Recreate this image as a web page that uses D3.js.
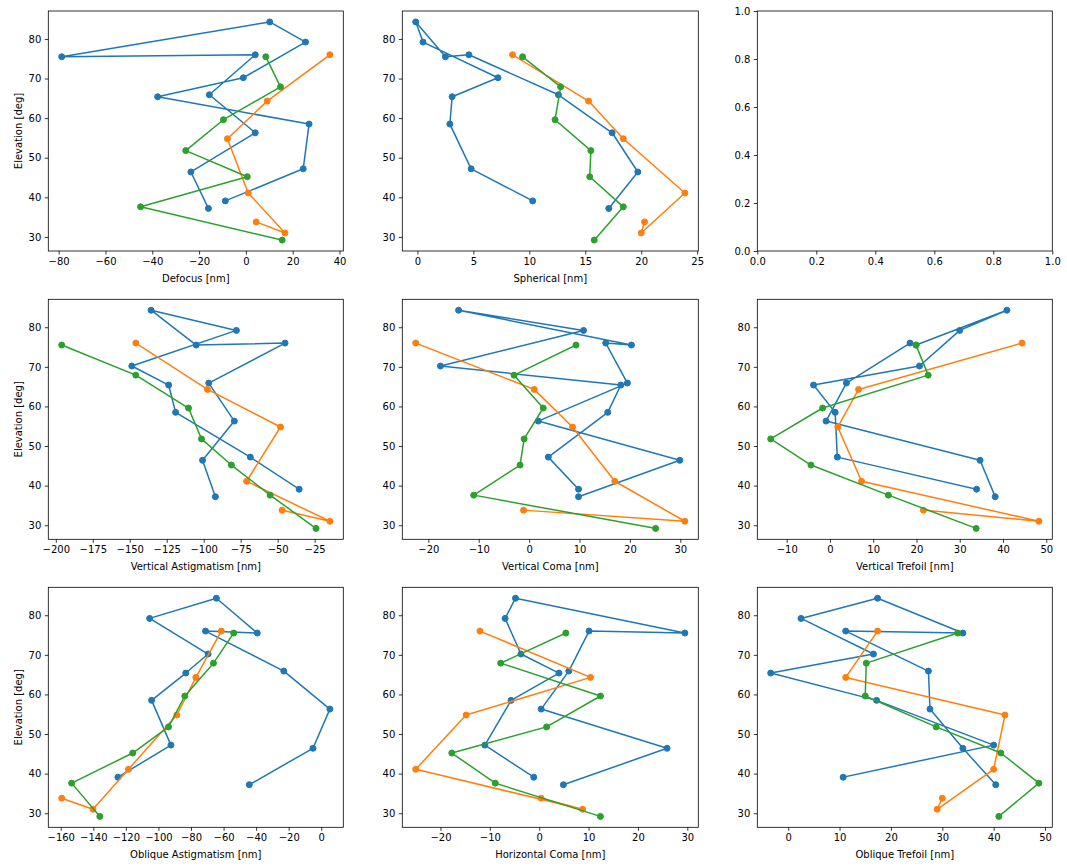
<!DOCTYPE html>
<html>
<head>
<meta charset="utf-8">
<script src="https://cdn.jsdelivr.net/npm/d3@7"></script>
<style>
  html, body { margin: 0; padding: 0; background: #ffffff; }
  svg { display: block; }
  text { font-family: "DejaVu Sans", sans-serif; }
</style>
</head>
<body>
<svg id="chart" width="1067" height="867"></svg>
<script>
// ---------------- DATA ----------------
// Elevation of each observation (series order as connected in the picture)
const elevBlue   = [39.1, 47.2, 58.5, 65.4, 70.2, 79.2, 84.3, 75.5, 76.0, 65.9, 56.3, 46.4, 37.2];
const elevOrange = [76.0, 64.3, 54.8, 41.1, 31.0, 33.8];
const elevGreen  = [75.5, 67.9, 59.6, 51.8, 45.2, 37.6, 29.2];

const defocusBlue   = [-8.8, 24.5, 27.0, -37.7, -1.1, 25.5, 10.2, -78.7, 4.0, -15.6, 4.0, -23.5, -16.0];
const defocusOrange = [35.9, 9.1, -7.9, 1.0, 16.7, 4.4];
const defocusGreen  = [8.5, 14.8, -9.6, -25.7, 0.6, -45.0, 15.5];

const sphericalBlue   = [10.3, 4.8, 2.9, 3.1, 7.2, 0.5, -0.15, 2.5, 4.6, 12.6, 17.4, 19.7, 17.1];
const sphericalOrange = [8.5, 15.3, 18.4, 23.9, 20.0, 20.3];
const sphericalGreen  = [9.4, 12.8, 12.3, 15.5, 15.4, 18.4, 15.8];

const vertAstigBlue   = [-35.5, -68.5, -119.0, -123.7, -148.6, -77.9, -135.6, -105.1, -45.0, -96.6, -79.3, -100.8, -92.1];
const vertAstigOrange = [-145.9, -97.5, -48.1, -71.0, -14.7, -47.0];
const vertAstigGreen  = [-196.0, -145.9, -110.3, -101.5, -81.3, -55.1, -24.1];

const vertComaBlue   = [9.8, 3.8, 15.6, 18.2, -17.6, 10.8, -14.0, 20.3, 15.2, 19.5, 1.8, 29.9, 9.8];
const vertComaOrange = [-22.5, 1.0, 8.6, 17.0, 30.9, -1.1];
const vertComaGreen  = [9.3, -3.0, 2.8, -1.0, -1.8, -11.0, 25.1];

const vertTrefoilBlue   = [33.9, 1.7, 1.2, -3.8, 20.7, 30.0, 40.9, 19.9, 18.5, 3.8, -0.9, 34.7, 38.2];
const vertTrefoilOrange = [44.4, 6.6, 1.8, 7.3, 48.3, 21.6];
const vertTrefoilGreen  = [19.9, 22.7, -1.7, -13.7, -4.4, 13.5, 33.8];

const oblAstigBlue   = [-124.9, -92.3, -104.2, -83.2, -69.5, -105.4, -64.4, -39.3, -71.1, -23.0, 5.3, -5.1, -44.2];
const oblAstigOrange = [-61.4, -77.0, -88.7, -118.4, -140.2, -159.4];
const oblAstigGreen  = [-53.8, -66.2, -83.8, -93.8, -115.8, -153.3, -136.0];

const horzComaBlue   = [-1.1, -11.0, -5.7, 4.0, -3.7, -6.9, -4.8, 29.5, 10.1, 6.0, 0.4, 25.9, 4.9];
const horzComaOrange = [-12.0, 10.4, -14.8, -25.0, 8.8, 0.4];
const horzComaGreen  = [5.4, -7.8, 12.4, 1.5, -17.7, -8.9, 12.4];

const oblTrefoilBlue   = [10.7, 40.0, 17.2, -3.4, 16.6, 2.5, 17.4, 34.0, 11.2, 27.3, 27.6, 34.0, 40.4];
const oblTrefoilOrange = [17.4, 11.2, 42.2, 40.0, 29.0, 30.0];
const oblTrefoilGreen  = [33.0, 15.2, 15.0, 28.8, 41.4, 48.8, 41.0];

// Axis labels and tick values
const panelLabels = ["Defocus [nm]", "Spherical [nm]", null,
                     "Vertical Astigmatism [nm]", "Vertical Coma [nm]", "Vertical Trefoil [nm]",
                     "Oblique Astigmatism [nm]", "Horizontal Coma [nm]", "Oblique Trefoil [nm]"];
const ticksDefocus     = [-80, -60, -40, -20, 0, 20, 40];
const ticksSpherical   = [0, 5, 10, 15, 20, 25];
const ticksVertAstig   = [-200, -175, -150, -125, -100, -75, -50, -25];
const ticksVertComa    = [-20, -10, 0, 10, 20, 30];
const ticksVertTrefoil = [-10, 0, 10, 20, 30, 40, 50];
const ticksOblAstig    = [-160, -140, -120, -100, -80, -60, -40, -20, 0];
const ticksHorzComa    = [-20, -10, 0, 10, 20, 30];
const ticksOblTrefoil  = [0, 10, 20, 30, 40, 50];
const ticksElevation   = [30, 40, 50, 60, 70, 80];
const ticksEmpty       = [0, 0.2, 0.4, 0.6, 0.8, 1.0];
const yLabel = "Elevation [deg]";
const seriesColors = ["#1f77b4", "#ff7f0e", "#2ca02c"];

// ---------------- BUILD ----------------
const panels = [
  { x: [defocusBlue, defocusOrange, defocusGreen], ticks: ticksDefocus },
  { x: [sphericalBlue, sphericalOrange, sphericalGreen], ticks: ticksSpherical },
  null,
  { x: [vertAstigBlue, vertAstigOrange, vertAstigGreen], ticks: ticksVertAstig },
  { x: [vertComaBlue, vertComaOrange, vertComaGreen], ticks: ticksVertComa },
  { x: [vertTrefoilBlue, vertTrefoilOrange, vertTrefoilGreen], ticks: ticksVertTrefoil },
  { x: [oblAstigBlue, oblAstigOrange, oblAstigGreen], ticks: ticksOblAstig },
  { x: [horzComaBlue, horzComaOrange, horzComaGreen], ticks: ticksHorzComa },
  { x: [oblTrefoilBlue, oblTrefoilOrange, oblTrefoilGreen], ticks: ticksOblTrefoil }
];
const elevs = [elevBlue, elevOrange, elevGreen];

const colX = [[48.3, 343.3], [402.3, 698.3], [757.3, 1052.3]];
const rowY = [[11, 251], [299.3, 539.3], [587.3, 827.3]];

const svg = d3.select("#chart");
svg.append("rect").attr("width", 1067).attr("height", 867).attr("fill", "#ffffff");

function padded(ext) {
  const r = ext[1] - ext[0];
  return [ext[0] - 0.05 * r, ext[1] + 0.05 * r];
}
const allElev = elevBlue.concat(elevOrange, elevGreen);
const yDomain = padded(d3.extent(allElev));

const fmt = d3.format("");
const fmt1 = d3.format(".1f");

function styleAxis(g) {
  g.select(".domain").remove();
  g.selectAll(".tick line").attr("stroke", "#000").attr("stroke-width", 0.8);
  g.selectAll(".tick text").attr("fill", "#000").style("font-size", "10px")
    .style("font-family", "'DejaVu Sans', sans-serif");
}

panels.forEach((p, i) => {
  const row = Math.floor(i / 3), col = i % 3;
  const [x0, x1] = colX[col];
  const [y0, y1] = rowY[row];
  const g = svg.append("g");

  let xs, ys, xt, yt, xf, yf;
  if (p === null) {
    xs = d3.scaleLinear().domain([0, 1]).range([x0, x1]);
    ys = d3.scaleLinear().domain([0, 1]).range([y1, y0]);
    xt = ticksEmpty; yt = ticksEmpty; xf = fmt1; yf = fmt1;
  } else {
    const allX = p.x[0].concat(p.x[1], p.x[2]);
    xs = d3.scaleLinear().domain(padded(d3.extent(allX))).range([x0, x1]);
    ys = d3.scaleLinear().domain(yDomain).range([y1, y0]);
    xt = p.ticks; yt = ticksElevation; xf = fmt; yf = fmt;
  }

  // data
  if (p !== null) {
    const line = d3.line().x(d => xs(d[0])).y(d => ys(d[1]));
    p.x.forEach((xv, s) => {
      const pts = xv.map((v, k) => [v, elevs[s][k]]);
      const sg = g.append("g");
      sg.append("path").datum(pts).attr("d", line)
        .attr("fill", "none").attr("stroke", seriesColors[s])
        .attr("stroke-width", 1.5).attr("stroke-linejoin", "round").attr("stroke-linecap", "square");
      sg.selectAll("circle").data(pts).enter().append("circle")
        .attr("cx", d => xs(d[0])).attr("cy", d => ys(d[1])).attr("r", 3)
        .attr("fill", seriesColors[s]).attr("stroke", seriesColors[s]).attr("stroke-width", 1);
    });
  }

  // axes
  const xa = g.append("g").attr("transform", `translate(0,${y1})`)
    .call(d3.axisBottom(xs).tickValues(xt).tickFormat(xf).tickSize(3.5).tickPadding(3.5).tickSizeOuter(0));
  styleAxis(xa);
  const ya = g.append("g").attr("transform", `translate(${x0},0)`)
    .call(d3.axisLeft(ys).tickValues(yt).tickFormat(yf).tickSize(3.5).tickPadding(3.5).tickSizeOuter(0));
  styleAxis(ya);

  // frame
  g.append("rect").attr("x", x0).attr("y", y0).attr("width", x1 - x0).attr("height", y1 - y0)
    .attr("fill", "none").attr("stroke", "#000").attr("stroke-width", 0.8);

  // labels
  if (panelLabels[i]) {
    g.append("text").attr("x", (x0 + x1) / 2).attr("y", y1 + 31)
      .attr("text-anchor", "middle").style("font-size", "10px").attr("fill", "#000")
      .text(panelLabels[i]);
  }
  if (col === 0) {
    g.append("text").attr("transform", `translate(22,${(y0 + y1) / 2}) rotate(-90)`)
      .attr("text-anchor", "middle").style("font-size", "10px").attr("fill", "#000")
      .text(yLabel);
  }
});
</script>
</body>
</html>
